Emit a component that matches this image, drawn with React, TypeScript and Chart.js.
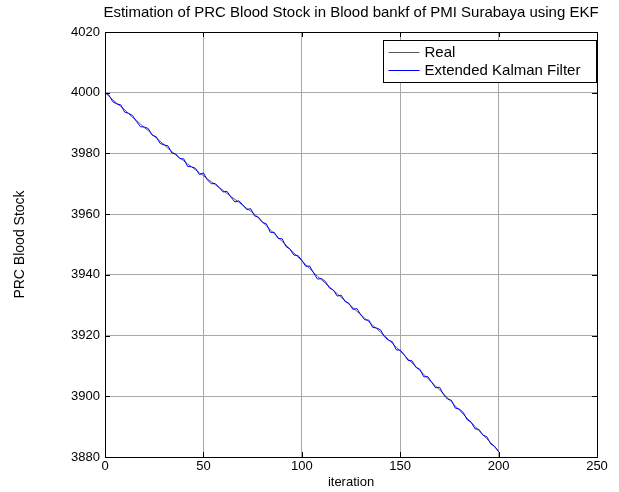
import React, { useEffect, useRef } from "react";
import { Chart, registerables } from "chart.js";

Chart.register(...registerables);

const iterations = [
  0, 2, 4, 6, 8, 10, 12, 14, 16, 18, 20, 22, 24, 26, 28, 30, 32, 34, 36, 38,
  40, 42, 44, 46, 48, 50, 52, 54, 56, 58, 60, 62, 64, 66, 68, 70, 72, 74, 76, 78,
  80, 82, 84, 86, 88, 90, 92, 94, 96, 98, 100, 102, 104, 106, 108, 110, 112, 114, 116, 118,
  120, 122, 124, 126, 128, 130, 132, 134, 136, 138, 140, 142, 144, 146, 148, 150, 152, 154, 156, 158,
  160, 162, 164, 166, 168, 170, 172, 174, 176, 178, 180, 182, 184, 186, 188, 190, 192, 194, 196, 198,
  200,
];

const realStock = [
  4000.0, 3998.9, 3997.6, 3996.5, 3995.5, 3994.4, 3993.1, 3991.9, 3990.9, 3989.7,
  3988.5, 3987.5, 3986.3, 3985.1, 3984.0, 3982.9, 3981.7, 3980.6, 3979.5, 3978.5,
  3977.6, 3976.5, 3975.6, 3974.6, 3973.6, 3972.7, 3971.6, 3970.7, 3969.7, 3968.7,
  3967.8, 3966.8, 3965.8, 3964.9, 3963.9, 3962.9, 3961.9, 3961.0, 3960.0, 3958.7,
  3957.4, 3956.2, 3954.8, 3953.6, 3952.3, 3951.0, 3949.8, 3948.4, 3947.2, 3945.9,
  3944.6, 3943.4, 3942.1, 3940.8, 3939.5, 3938.4, 3937.2, 3936.1, 3934.9, 3933.8,
  3932.6, 3931.5, 3930.3, 3929.2, 3928.0, 3926.9, 3925.7, 3924.6, 3923.4, 3922.3,
  3921.1, 3920.0, 3918.7, 3917.4, 3916.2, 3914.9, 3913.6, 3912.3, 3911.0, 3909.8,
  3908.5, 3907.2, 3905.9, 3904.6, 3903.4, 3902.1, 3900.8, 3899.5, 3898.2, 3896.8,
  3895.5, 3894.1, 3892.8, 3891.4, 3890.1, 3888.7, 3887.4, 3886.0, 3884.7, 3883.3,
  3882.0,
];

const ekfStock = [
  4000.0, 3999.2, 3997.0, 3996.3, 3996.0, 3993.6, 3993.2, 3992.5, 3990.5, 3988.8,
  3988.7, 3988.2, 3986.0, 3985.5, 3983.3, 3982.8, 3982.5, 3980.1, 3979.8, 3978.3,
  3978.2, 3975.7, 3975.6, 3975.1, 3973.0, 3973.6, 3971.3, 3970.0, 3970.1, 3968.8,
  3967.3, 3967.5, 3965.6, 3964.0, 3964.4, 3963.1, 3961.5, 3961.8, 3959.4, 3959.0,
  3957.3, 3956.8, 3954.0, 3954.0, 3952.0, 3951.9, 3949.3, 3948.5, 3946.5, 3946.4,
  3944.8, 3942.8, 3942.9, 3940.6, 3938.6, 3938.8, 3937.8, 3935.7, 3935.0, 3933.0,
  3933.3, 3931.2, 3930.6, 3928.6, 3928.9, 3926.8, 3925.2, 3925.1, 3922.7, 3922.5,
  3921.9, 3919.6, 3918.5, 3918.0, 3915.3, 3915.2, 3913.7, 3911.8, 3911.7, 3909.5,
  3908.9, 3906.4, 3906.5, 3904.6, 3902.8, 3903.0, 3900.6, 3899.1, 3898.7, 3896.1,
  3895.8, 3894.7, 3892.3, 3891.5, 3889.3, 3889.1, 3887.2, 3886.7, 3884.3, 3883.5,
  3881.7,
];

const seriesLabels = ["Real", "Extended Kalman Filter"];
const xTicks = [0, 50, 100, 150, 200, 250];
const yTicks = [3880, 3900, 3920, 3940, 3960, 3980, 4000, 4020];
const chartTitle = "Estimation of PRC Blood Stock in Blood bankf of PMI Surabaya using EKF";

const FONT = "'Liberation Sans', Arial, sans-serif";

const frameAndLegend = {
  id: "frameAndLegend",
  afterDatasetsDraw(chart: any) {
    const { ctx, chartArea } = chart;
    const { left, right, top, bottom } = chartArea;
    const xs = chart.scales.x;
    const ys = chart.scales.y;
    ctx.save();
    ctx.strokeStyle = "#000";
    ctx.lineWidth = 1;
    const tl = 5;
    ctx.beginPath();
    for (const v of xTicks) {
      const px = Math.round(xs.getPixelForValue(v)) + 0.5;
      ctx.moveTo(px, bottom);
      ctx.lineTo(px, bottom - tl);
      ctx.moveTo(px, top);
      ctx.lineTo(px, top + tl);
    }
    for (const v of yTicks) {
      const py = Math.round(ys.getPixelForValue(v)) + 0.5;
      ctx.moveTo(left, py);
      ctx.lineTo(left + tl, py);
      ctx.moveTo(right, py);
      ctx.lineTo(right - tl, py);
    }
    ctx.stroke();
    ctx.strokeRect(Math.round(left) + 0.5, Math.round(top) + 0.5, Math.round(right - left), Math.round(bottom - top));

    // title centred over the axes
    ctx.fillStyle = "#000";
    ctx.font = `15px ${FONT}`;
    ctx.textAlign = "center";
    ctx.textBaseline = "middle";
    ctx.fillText(chartTitle, (left + right) / 2, 13);

    // legend
    const bw = 213;
    const bh = 42;
    const bx = Math.round(right) - bw - 1 + 0.5;
    const by = Math.round(top) + 8 + 0.5;
    ctx.fillStyle = "#fff";
    ctx.fillRect(bx, by, bw, bh);
    ctx.strokeRect(bx, by, bw, bh);
    ctx.font = `15px ${FONT}`;
    ctx.textBaseline = "middle";
    ctx.textAlign = "left";
    chart.data.datasets.forEach((ds: any, i: number) => {
      const yy = by + 11 + i * 18;
      ctx.strokeStyle = ds.borderColor;
      ctx.lineWidth = 1;
      ctx.beginPath();
      ctx.moveTo(bx + 5, Math.round(yy) + 0.5);
      ctx.lineTo(bx + 36, Math.round(yy) + 0.5);
      ctx.stroke();
      ctx.fillStyle = "#000";
      ctx.fillText(ds.label, bx + 41, yy + 1);
    });
    ctx.restore();
  },
};

export default function App() {
  const ref = useRef<HTMLCanvasElement | null>(null);
  useEffect(() => {
    document.body.style.margin = "0";
    const canvas = ref.current!;
    const chart = new Chart(canvas, {
      type: "line",
      data: {
        datasets: [
          {
            label: seriesLabels[0],
            data: iterations.map((x, i) => ({ x, y: realStock[i] })),
            borderColor: "#5a5a5a",
            borderWidth: 1,
            pointRadius: 0,
            tension: 0,
            order: 2,
          },
          {
            label: seriesLabels[1],
            data: iterations.map((x, i) => ({ x, y: ekfStock[i] })),
            borderColor: "#0000ff",
            borderWidth: 1,
            pointRadius: 0,
            tension: 0,
            order: 1,
          },
        ],
      },
      options: {
        responsive: false,
        animation: false,
        devicePixelRatio: 1,
        layout: { padding: { left: 8, right: 22, top: 32, bottom: 0 } },
        plugins: {
          legend: { display: false },
          tooltip: { enabled: false },
          title: { display: false },
        },
        scales: {
          x: {
            type: "linear",
            min: 0,
            max: 250,
            afterBuildTicks: (s: any) => {
              s.ticks = xTicks.map((v) => ({ value: v }));
            },
            afterFit: (s: any) => {
              s.height = 35;
            },
            ticks: {
              color: "#000",
              font: { family: FONT, size: 13 },
              padding: 2,
              maxRotation: 0,
              callback: (v: any) => String(v),
            },
            grid: { color: "#a8a8a8", drawTicks: false, lineWidth: 1 },
            border: { display: false },
            title: {
              display: true,
              text: "iteration",
              color: "#000",
              font: { family: FONT, size: 13 },
              padding: { top: 0, bottom: 2 },
            },
          },
          y: {
            type: "linear",
            min: 3880,
            max: 4020,
            afterBuildTicks: (s: any) => {
              s.ticks = yTicks.map((v) => ({ value: v }));
            },
            afterFit: (s: any) => {
              s.width = 97;
            },
            ticks: {
              color: "#000",
              font: { family: FONT, size: 13 },
              padding: 5,
              callback: (v: any) => String(v),
            },
            grid: { color: "#a8a8a8", drawTicks: false, lineWidth: 1 },
            border: { display: false },
            title: {
              display: true,
              text: "PRC Blood Stock",
              color: "#000",
              font: { family: FONT, size: 14 },
              padding: { top: 4, bottom: 4 },
            },
          },
        },
      },
      plugins: [frameAndLegend],
    } as any);
    return () => chart.destroy();
  }, []);
  return (
    <div style={{ width: 619, height: 492, background: "#fff" }}>
      <canvas ref={ref} width={619} height={492} />
    </div>
  );
}
